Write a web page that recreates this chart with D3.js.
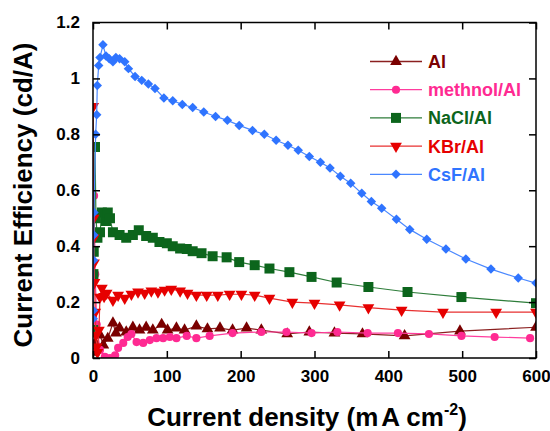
<!DOCTYPE html>
<html>
<head>
<meta charset="utf-8">
<script src="https://cdn.jsdelivr.net/npm/d3@7"></script>
<style>
  body { margin: 0; background: #fff; }
  svg { display: block; font-family: "Liberation Sans", Arial, sans-serif; font-weight: bold; }
</style>
</head>
<body>
<svg id="chart"></svg>
<script>
"use strict";

// series data: [current density, efficiency]
var alData = [[1,0.02],[3,0.054],[6,0.09],[9.5,0.082],[14,0.046],[20,0.07],[27,0.125],[31,0.089],[36,0.107],[45,0.093],[54,0.11],[63,0.1],[72,0.11],[81,0.1],[93,0.12],[101,0.1],[113,0.107],[124,0.1],[140,0.114],[155,0.104],[172,0.107],[189,0.1],[208,0.107],[228,0.1],[263,0.086],[293,0.093],[327,0.089],[365,0.086],[422,0.079],[497,0.096],[600,0.11]];

var methnolData = [[1.5,0.58],[3,0.3],[5,0.12],[9.5,0.029],[16,0.004],[23,0],[30,0.01],[34,0.036],[41,0.054],[47,0.075],[52,0.086],[59,0.057],[68,0.054],[77,0.064],[86,0.071],[95,0.071],[104,0.075],[113,0.071],[127,0.079],[140,0.071],[158,0.079],[189,0.089],[228,0.093],[262,0.093],[296,0.089],[331,0.093],[372,0.089],[413,0.089],[455,0.086],[499,0.079],[544,0.075],[592,0.071]];

var naclData = [[0.3,0.1],[0.6,0.3],[1,0.38],[2.7,0.755],[4,0.5],[6,0.43],[9.5,0.45],[12,0.52],[17.6,0.49],[20,0.52],[23,0.5],[27,0.45],[36,0.44],[45,0.43],[54,0.44],[62,0.457],[72,0.436],[81,0.43],[90,0.415],[100,0.41],[108,0.4],[118,0.392],[127,0.39],[135,0.382],[147,0.375],[162,0.364],[181,0.36],[198,0.343],[219,0.332],[239,0.32],[266,0.307],[296,0.29],[330,0.27],[373,0.254],[426,0.236],[499,0.218],[600,0.196]];

var kbrData = [[0.3,0.9],[0.8,0.5],[1,0.43],[1.3,0.34],[2,0.27],[3,0.164],[4,0.082],[5,0.04],[6,0.02],[8,0.1],[9.5,0.218],[12,0.25],[15,0.22],[18.5,0.232],[27,0.207],[34,0.225],[43,0.214],[52,0.228],[61,0.236],[70,0.232],[79,0.24],[88,0.236],[97,0.243],[106,0.246],[118,0.24],[128,0.232],[140,0.225],[154,0.225],[169,0.225],[185,0.228],[201,0.228],[219,0.225],[239,0.214],[270,0.2],[300,0.196],[334,0.19],[373,0.18],[418,0.171],[474,0.164],[546,0.164],[600,0.164]];

var csfData = [[0.3,0.14],[0.5,0.17],[0.8,0.35],[1,0.44],[1.3,0.52],[3.6,0.8],[5,0.87],[5.8,0.975],[7.7,1.046],[9.5,1.075],[13.5,1.12],[17.6,1.08],[22,1.07],[27,1.06],[31,1.075],[36,1.07],[43,1.06],[48,1.035],[57,1.007],[66,0.993],[75,0.98],[84,0.964],[96,0.93],[108,0.92],[121,0.907],[135,0.896],[150,0.88],[166,0.864],[182,0.85],[198,0.832],[216,0.814],[232,0.8],[248,0.779],[264,0.761],[278,0.743],[293,0.721],[308,0.7],[321,0.68],[335,0.65],[349,0.625],[364,0.589],[377,0.56],[391,0.536],[411,0.496],[429,0.46],[452,0.425],[478,0.39],[505,0.354],[539,0.318],[576,0.286],[600,0.268]];

var seriesNames = ["Al", "methnol/Al", "NaCl/Al", "KBr/Al", "CsF/Al"];
var xTicks = [0, 100, 200, 300, 400, 500, 600];
var yTicks = [0, 0.2, 0.4, 0.6, 0.8, 1, 1.2];

var width = 550
  , height = 431
  , margin = {top: 22.5, right: 14, bottom: 73, left: 93};

var series = [
  {name: seriesNames[0], data: alData, color: "#7a0000", line: "#8b2020", shape: "tri"},
  {name: seriesNames[1], data: methnolData, color: "#ff2a92", line: "#ff3d9e", shape: "circle"},
  {name: seriesNames[2], data: naclData, color: "#0c651c", line: "#2e7d3a", shape: "square"},
  {name: seriesNames[3], data: kbrData, color: "#e60000", line: "#e83030", shape: "triDown"},
  {name: seriesNames[4], data: csfData, color: "#2f74ff", line: "#4a88ff", shape: "diamond"}
];

var svg = d3.select("#chart")
  .attr("width", width)
  .attr("height", height);

var x = d3.scaleLinear().domain([0, 600]).range([margin.left, width - margin.right]);
var y = d3.scaleLinear().domain([0, 1.2]).range([height - margin.bottom, margin.top]);

svg.append("clipPath")
  .attr("id", "plot-clip")
  .append("rect")
  .attr("x", x(0))
  .attr("y", y(1.2))
  .attr("width", x(600) - x(0))
  .attr("height", y(0) - y(1.2));

// marker shapes
function symbolPath(shape) {
  if (shape === "tri" || shape === "triDown") return d3.symbol().type(d3.symbolTriangle).size(60)();
  if (shape === "circle") return d3.symbol().type(d3.symbolCircle).size(52)();
  if (shape === "square") return d3.symbol().type(d3.symbolSquare).size(100)();
  return d3.symbol().type(d3.symbolSquare).size(45)();
}
function symbolRotate(shape) {
  if (shape === "triDown") return " rotate(180)";
  if (shape === "diamond") return " rotate(45)";
  return "";
}

var line = d3.line()
  .x(function (d) { return x(d[0]); })
  .y(function (d) { return y(d[1]); });

var plot = svg.append("g").attr("clip-path", "url(#plot-clip)");

series.forEach(function (s) {
  var g = plot.append("g");
  g.append("path")
    .attr("d", line(s.data))
    .attr("fill", "none")
    .attr("stroke", s.line)
    .attr("stroke-width", 1.2);
  g.selectAll("path.mark")
    .data(s.data)
    .enter()
    .append("path")
    .attr("class", "mark")
    .attr("d", symbolPath(s.shape))
    .attr("fill", s.color)
    .attr("transform", function (d) {
      return "translate(" + x(d[0]) + "," + y(d[1]) + ")" + symbolRotate(s.shape);
    });
});

// frame with inward ticks on all sides
var tickLen = 7;
svg.append("g")
  .attr("transform", "translate(0," + y(0) + ")")
  .call(d3.axisBottom(x).tickValues(xTicks).tickSizeInner(-tickLen).tickSizeOuter(0).tickPadding(12)
    .tickFormat(d3.format("d")));
svg.append("g")
  .attr("transform", "translate(0," + y(1.2) + ")")
  .call(d3.axisTop(x).tickValues(xTicks).tickSizeInner(-tickLen).tickSizeOuter(0).tickFormat(""));
svg.append("g")
  .attr("transform", "translate(" + x(0) + ",0)")
  .call(d3.axisLeft(y).tickValues(yTicks).tickSizeInner(-tickLen).tickSizeOuter(0).tickPadding(13)
    .tickFormat(function (d) { return d3.format("~g")(d); }));
svg.append("g")
  .attr("transform", "translate(" + x(600) + ",0)")
  .call(d3.axisRight(y).tickValues(yTicks).tickSizeInner(-tickLen).tickSizeOuter(0).tickFormat(""));

svg.selectAll(".domain").remove();
svg.selectAll(".tick line").attr("stroke", "#000").attr("stroke-width", 1.5);
svg.selectAll(".tick text")
  .attr("fill", "#000")
  .style("font-size", "17px")
  .style("font-weight", "bold")
  .style("font-family", "'Liberation Sans', Arial, sans-serif");

svg.append("rect")
  .attr("x", x(0))
  .attr("y", y(1.2))
  .attr("width", x(600) - x(0))
  .attr("height", y(0) - y(1.2))
  .attr("fill", "none")
  .attr("stroke", "#000")
  .attr("stroke-width", 1.5);

// axis titles
svg.append("text")
  .attr("transform", "translate(32,195) rotate(-90)")
  .attr("text-anchor", "middle")
  .style("font-size", "26px")
  .text("Current Efficiency (cd/A)");

var xTitle = svg.append("text")
  .attr("x", 307)
  .attr("y", 426)
  .attr("text-anchor", "middle")
  .style("font-size", "26px");
xTitle.append("tspan").text("Current density (m");
xTitle.append("tspan").attr("dx", 3).text("A cm");
xTitle.append("tspan").attr("dy", -11).style("font-size", "16px").text("-2");
xTitle.append("tspan").attr("dy", 11).text(")");

// legend
var legend = svg.append("g");
series.forEach(function (s, i) {
  var ly = 61.5 + i * 28.2;
  legend.append("line")
    .attr("x1", 370).attr("x2", 422)
    .attr("y1", ly).attr("y2", ly)
    .attr("stroke", s.line)
    .attr("stroke-width", 1.3);
  legend.append("path")
    .attr("d", symbolPath(s.shape))
    .attr("fill", s.color)
    .attr("transform", "translate(396," + ly + ")" + symbolRotate(s.shape));
  legend.append("text")
    .attr("x", 428)
    .attr("y", ly + 6.5)
    .attr("fill", s.color)
    .style("font-size", "18px")
    .text(s.name);
});
</script>
</body>
</html>
